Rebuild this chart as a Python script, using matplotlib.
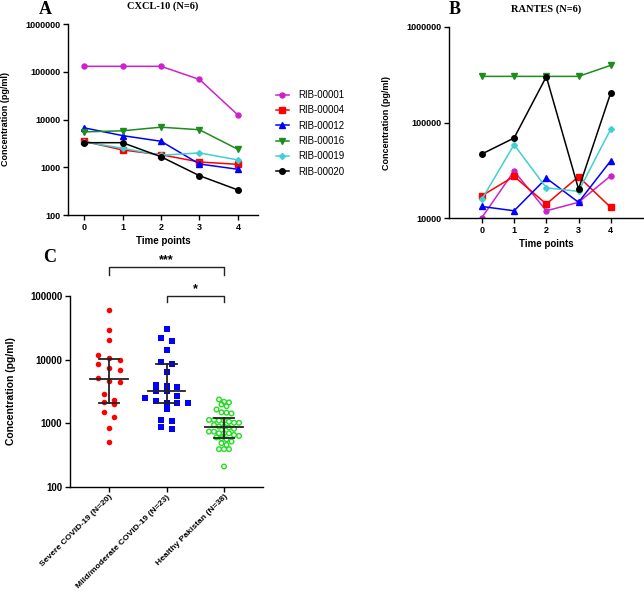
import matplotlib
matplotlib.use("Agg")
import matplotlib.pyplot as plt
import matplotlib.transforms as mtransforms
import numpy as np

plt.rcParams['font.family'] = ['Liberation Sans', 'DejaVu Sans']
plt.rcParams['font.weight'] = 'bold'

# ---- data ----
time_points = [0, 1, 2, 3, 4]
patients = ['RIB-00001', 'RIB-00004', 'RIB-00012', 'RIB-00016', 'RIB-00019', 'RIB-00020']

cxcl10 = {
    'RIB-00001': [130000, 130000, 130000, 69000, 12400],
    'RIB-00004': [3500, 2300, 1830, 1290, 1150],
    'RIB-00012': [6700, 4600, 3500, 1170, 906],
    'RIB-00016': [5500, 5800, 6900, 6100, 2370],
    'RIB-00019': [3400, 2500, 1780, 2000, 1420],
    'RIB-00020': [3270, 3270, 1660, 665, 334],
}
rantes = {
    'RIB-00001': [10100, 31000, 11900, 14600, 27700],
    'RIB-00004': [17100, 27300, 14000, 27100, 12900],
    'RIB-00012': [13200, 11900, 26100, 14600, 39800],
    'RIB-00016': [304000, 304000, 304000, 304000, 397000],
    'RIB-00019': [15700, 58600, 20700, 19000, 85500],
    'RIB-00020': [46800, 68800, 302000, 20100, 205000],
}

groups = ['Severe COVID-19 (N=20)', 'Mild/moderate COVID-19 (N=23)', 'Healthy Pakistan (N=38)']
severe = [61200, 29700, 20100, 11700, 10600, 9750, 8650, 7480, 6880, 5210,
          4620, 4460, 2880, 2345, 2180, 2010, 1480, 1280, 840, 516]
mild = [30800, 22000, 19900, 14400, 9200, 8650, 6400, 4040, 3800, 3720, 3170, 3170,
        2710, 2490, 2240, 2080, 2080, 2080, 1670, 1110, 1070, 871, 818]
healthy = [2370, 2180, 2130, 1980, 1860, 1650, 1490, 1470, 1430, 1130, 1130, 1100,
           1100, 1060, 1020, 1020, 942, 887, 887, 860, 820, 741, 741, 698, 698, 698,
           657, 634, 600, 583, 560, 518, 488, 458, 393, 393, 393, 210]

styles = {
    'RIB-00001': dict(color='#CC22CC', marker='o', ms=3.6),
    'RIB-00004': dict(color='#FF0000', marker='s', ms=4.2),
    'RIB-00012': dict(color='#0000FF', marker='^', ms=4.0),
    'RIB-00016': dict(color='#1E8C1E', marker='v', ms=4.0),
    'RIB-00019': dict(color='#40D0D0', marker='D', ms=3.0),
    'RIB-00020': dict(color='#000000', marker='o', ms=4.0),
}

fig = plt.figure(figsize=(6.44, 5.95), dpi=100)


def style_axes(ax, fs=6.5):
    for s in ['top', 'right']:
        ax.spines[s].set_visible(False)
    for s in ['left', 'bottom']:
        ax.spines[s].set_linewidth(1.0)
    ax.tick_params(direction='out', length=3.5, width=1.0, labelsize=fs, pad=2)
    ax.tick_params(which='minor', length=0)
    for lab in ax.get_xticklabels() + ax.get_yticklabels():
        lab.set_fontweight('bold')


def panel_line(ax, data, ylim, yticks):
    for p in patients:
        st = styles[p]
        ax.plot(time_points, data[p], color=st['color'], marker=st['marker'],
                markersize=st['ms'], lw=1.1, label=p)
    ax.set_yscale('log')
    ax.set_ylim(*ylim)
    ax.set_yticks(yticks)
    ax.set_yticklabels([str(v) for v in yticks])
    ax.set_xticks(time_points)
    ax.set_xlabel('Time points', fontsize=7, fontweight='bold', labelpad=3)
    ax.set_ylabel('Concentration (pg/ml)', fontsize=6.5, fontweight='bold', labelpad=11)
    style_axes(ax)


# ---- panel A ----
axA = fig.add_axes([68 / 644, 1 - 215 / 595, 190 / 644, 191 / 595])
panel_line(axA, cxcl10, (100, 1e6), [100, 1000, 10000, 100000, 1000000])
axA.set_xlim(-0.416, 4.52)
axA.set_title('CXCL-10 (N=6)', fontsize=7.5, fontweight='bold',
              family=['Liberation Serif'], pad=11)
fig.text(45 / 644, 1 - 9 / 595, 'A', fontsize=13, fontweight='bold',
         family=['Liberation Serif'], ha='center', va='center')
fig.legend(*axA.get_legend_handles_labels(), loc='upper left',
           bbox_to_anchor=(276 / 644, 1 - 90 / 595), frameon=False,
           prop=dict(weight='normal', size=7), handlelength=1.3,
           handletextpad=1.0, labelspacing=0.55, borderpad=0, borderaxespad=0)

# ---- panel B ----
axB = fig.add_axes([449 / 644, 1 - 218 / 595, 194 / 644, 191 / 595])
panel_line(axB, rantes, (10000, 1e6), [10000, 100000, 1000000])
axB.set_xlim(-1.02, 5.0)
axB.set_title('RANTES (N=6)', fontsize=7.5, fontweight='bold',
              family=['Liberation Serif'], pad=11)
fig.text(455 / 644, 1 - 9 / 595, 'B', fontsize=13, fontweight='bold',
         family=['Liberation Serif'], ha='center', va='center')


# ---- panel C ----
def swarm(vals, h, step):
    # rows of nearby values, spread sideways around the category centre
    vals = np.asarray(vals, float)
    logv = np.log10(vals)
    order = np.argsort(-vals, kind='stable')
    offs = np.zeros(len(vals))
    rows, cur = [], [order[0]]
    for i in order[1:]:
        if logv[cur[0]] - logv[i] < h:
            cur.append(i)
        else:
            rows.append(cur)
            cur = [i]
    rows.append(cur)
    for r in rows:
        n = len(r)
        for k, i in enumerate(r):
            offs[i] = (k - (n - 1) / 2) * step
    return offs


axC = fig.add_axes([70 / 644, 1 - 487 / 595, 193 / 644, 191 / 595])
sets = [severe, mild, healthy]
xs0 = swarm(severe, 0.1, 0.186)
xs1 = swarm(mild, 0.08, 0.186)
xs2 = swarm(healthy, 0.07, 0.087)
axC.scatter(0 + xs0, severe, s=16, color='#FF0000', marker='o', lw=0, zorder=3)
axC.scatter(1 + xs1, mild, s=15, color='#0000FF', marker='s', lw=0, zorder=3)
axC.scatter(2 + xs2, healthy, s=11, facecolor='none', edgecolor='#22DD22',
            marker='o', lw=1.0, zorder=3)
for i, v in enumerate(sets):
    q1, med, q3 = np.percentile(v, [25, 50, 75], method='weibull')
    axC.plot([i - 0.33, i + 0.33], [med, med], color='#222222', lw=1.3, zorder=4)
    axC.plot([i, i], [q1, q3], color='#222222', lw=1.3, zorder=4)
    for q in (q1, q3):
        axC.plot([i - 0.18, i + 0.18], [q, q], color='#222222', lw=1.3, zorder=4)

axC.set_yscale('log')
axC.set_ylim(100, 100000)
yt = [100, 1000, 10000, 100000]
axC.set_yticks(yt)
axC.set_yticklabels([str(v) for v in yt])
axC.set_xlim(-0.678, 2.678)
axC.set_xticks([0, 1, 2])
axC.set_xticklabels(groups, rotation=45, ha='right', rotation_mode='anchor')
axC.set_ylabel('Concentration (pg/ml)', fontsize=7.5, fontweight='bold', labelpad=10)
style_axes(axC, fs=7)
axC.tick_params(axis='x', pad=1)
for lab in axC.get_xticklabels():
    lab.set_fontsize(6.1)

# significance brackets
tr = mtransforms.blended_transform_factory(axC.transData, axC.transAxes)
for x1, x2, yb, yd, star in [(0, 2, 1.150, 1.110, '***'), (1, 2, 1.0016, 0.9686, '*')]:
    axC.plot([x1, x1, x2, x2], [yd, yb, yb, yd], color='#222222', lw=1.0,
             transform=tr, clip_on=False)
    axC.text((x1 + x2) / 2, yb + 0.005, star, transform=tr, ha='center',
             va='bottom', fontsize=9, fontweight='bold')

fig.text(50 / 644, 1 - 257 / 595, 'C', fontsize=13, fontweight='bold',
         family=['Liberation Serif'], ha='center', va='center')

fig.savefig('out.png', dpi=100)
